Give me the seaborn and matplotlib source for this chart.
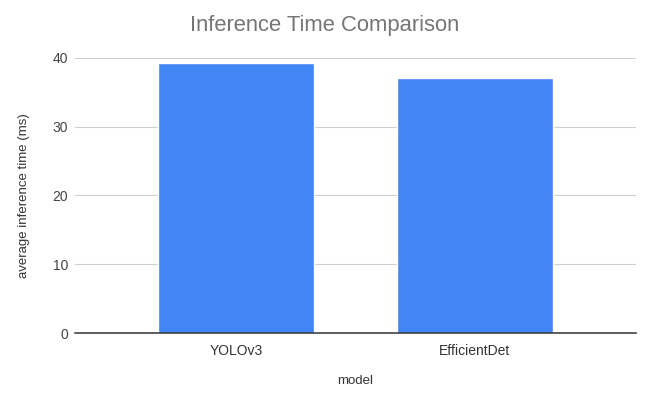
import matplotlib
matplotlib.use("Agg")
import matplotlib.pyplot as plt
import seaborn as sns
import pandas as pd

models = ["YOLOv3", "EfficientDet"]
times = [39.2, 37.1]
yticks = [0, 10, 20, 30, 40]

sns.set_style("white")
plt.rcParams['font.family'] = ['Liberation Sans', 'DejaVu Sans']

df = pd.DataFrame({"model": models, "time": times})

fig = plt.figure(figsize=(6.54, 3.97), dpi=100)
ax = fig.add_axes([0.1147, 0.1612, 0.8578, 0.6928])
sns.barplot(data=df, x="model", y="time", color="#4285F4", saturation=1,
            width=0.65, ax=ax, zorder=3)
ax.set_xlim(-0.674, 1.674)
ax.set_ylim(0, 40)
ax.set_yticks(yticks)
ax.yaxis.grid(True, color="#d0d0d0", linewidth=0.8, zorder=0)
for s in ["top", "right", "left"]:
    ax.spines[s].set_visible(False)
ax.spines["bottom"].set_color("#333333")
ax.spines["bottom"].set_linewidth(1.1)
ax.spines["bottom"].set_zorder(4)
ax.tick_params(axis="y", length=0, labelsize=10, colors="#444444", pad=5)
ax.tick_params(axis="x", length=0, labelsize=10, colors="#333333", pad=8)
ax.set_xlabel("model", fontsize=9.5, color="#333333", labelpad=12)
ax.set_ylabel("average inference time (ms)", fontsize=9.5, color="#333333", labelpad=16)
fig.text(0.497, 0.937, "Inference Time Comparison", fontsize=15.8, color="#757575",
         ha="center", va="center")
fig.savefig("out.png", dpi=100)
